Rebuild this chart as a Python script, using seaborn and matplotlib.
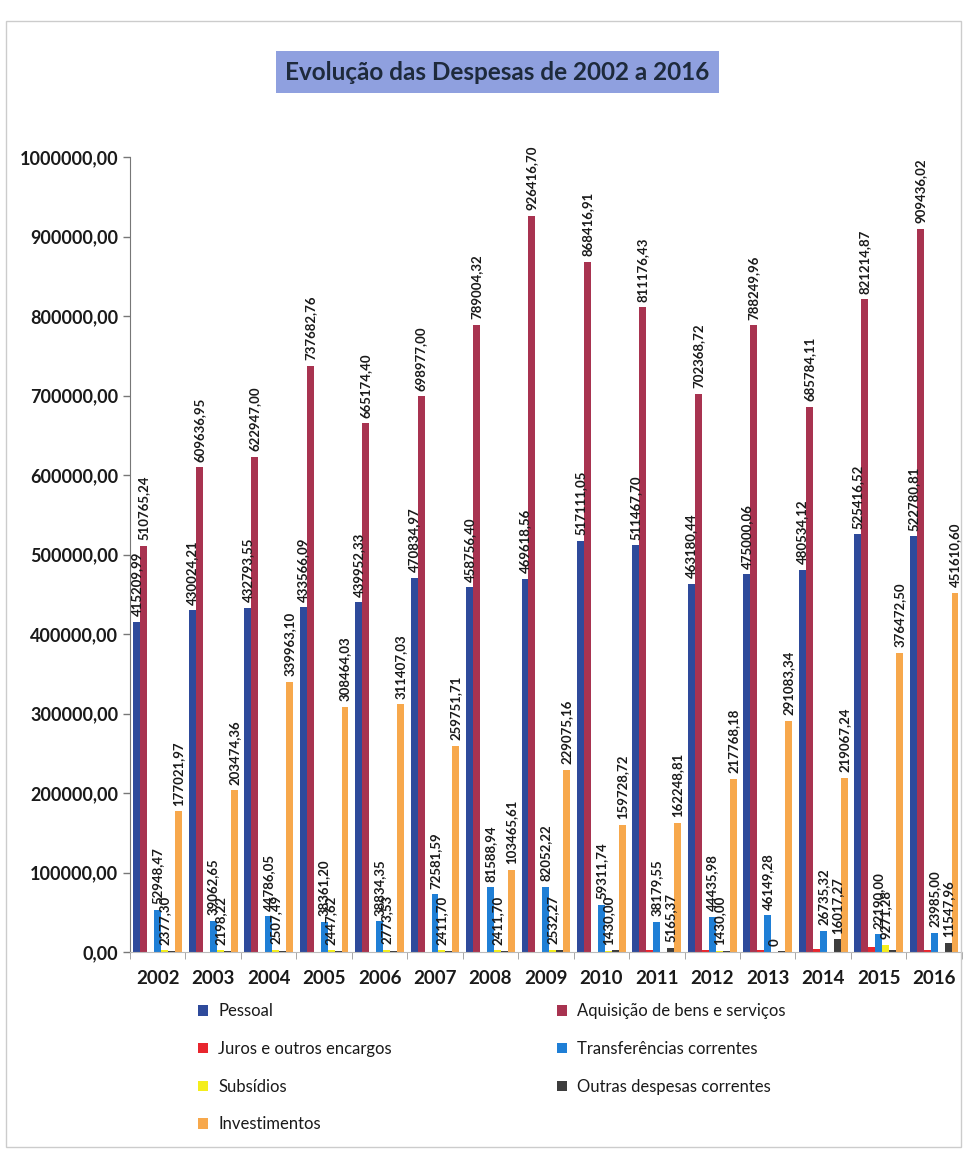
import pandas as pd
import numpy as np
import seaborn as sns
import matplotlib.pyplot as plt
from matplotlib.patches import Rectangle

anos = [str(a) for a in range(2002, 2017)]

pessoal = [415209.99, 430024.21, 432793.55, 433566.09, 439952.33, 470834.97, 458756.40,
           469618.56, 517111.05, 511467.70, 463180.44, 475000.06, 480534.12, 525416.52, 522780.81]
aquisicao = [510765.24, 609636.95, 622947.00, 737682.76, 665174.40, 698977.00, 789004.32,
             926416.70, 868416.91, 811176.43, 702368.72, 788249.96, 685784.11, 821214.87, 909436.02]
juros = [300, 300, 300, 300, 300, 300, 300, 300, 300, 2000, 3000, 3000, 3500, 6000, 3000]
transferencias = [52948.47, 39062.65, 44786.05, 38361.20, 38834.35, 72581.59, 81588.94,
                  82052.22, 59311.74, 38179.55, 44435.98, 46149.28, 26735.32, 22190.00, 23985.00]
subsidios = [2377.30, 2198.22, 2507.49, 2447.62, 2773.53, 2411.70, 2411.70,
             2532.27, 1430.00, 0, 1430.00, 0, 0, 9271.28, 0]
outras = [1200, 1000, 1500, 1000, 1200, 1500, 1500, 2500, 2000,
          5165.37, 1000, 1000, 16017.27, 2500, 11547.96]
investimentos = [177021.97, 203474.36, 339963.10, 308464.03, 311407.03, 259751.71, 103465.61,
                 229075.16, 159728.72, 162248.81, 217768.18, 291083.34, 219067.24, 376472.50, 451610.60]

series = ['Pessoal', 'Aquisição de bens e serviços', 'Juros e outros encargos',
          'Transferências correntes', 'Subsídios', 'Outras despesas correntes', 'Investimentos']
cores = ['#2e4a9b', '#a83350', '#e8262e', '#1f7fd6', '#f4ee1c', '#3d3d3d', '#f7a84c']

# anos em que as series pequenas tem rotulo
rot_subsidios = ['2002', '2003', '2004', '2005', '2006', '2007', '2008', '2009', '2010',
                 '2012', '2013', '2015']
rot_outras = ['2011', '2014', '2016']

valores = [pessoal, aquisicao, juros, transferencias, subsidios, outras, investimentos]
df = pd.DataFrame({
    'Ano': anos * len(series),
    'Rubrica': np.repeat(series, len(anos)),
    'Valor': np.concatenate(valores),
})

plt.rcParams['font.family'] = ['Lato', 'DejaVu Sans']

fig = plt.figure(figsize=(9.65, 11.52), dpi=100)
ax = fig.add_axes([0.1347, 0.1736, 0.862, 0.6901])

sns.barplot(data=df, x='Ano', y='Valor', hue='Rubrica', hue_order=series,
            palette=cores, width=0.88, errorbar=None, saturation=1, ax=ax, legend=True)


def fmt(v):
    if v == 0:
        return '0'
    return f'{v:.2f}'.replace('.', ',')


for i, cont in enumerate(ax.containers):
    nome = series[i]
    labs = []
    for ano, v in zip(anos, valores[i]):
        if nome == 'Juros e outros encargos':
            labs.append('')
        elif nome == 'Subsídios':
            labs.append(fmt(v) if ano in rot_subsidios else '')
        elif nome == 'Outras despesas correntes':
            labs.append(fmt(v) if ano in rot_outras else '')
        else:
            labs.append(fmt(v))
    ax.bar_label(cont, labels=labs, rotation=90, padding=4, fontsize=9.5,
                 fontweight='bold', color='#1a1a1a')

ax.set_ylim(0, 1000000)
ax.set_xlim(-0.5, len(anos) - 0.5)
ax.set_yticks(np.arange(0, 1000001, 100000))
ax.set_yticklabels([f'{int(t)},00' for t in np.arange(0, 1000001, 100000)],
                   fontsize=13, fontweight='bold', color='#1a1a1a')
ax.set_xticks(range(len(anos)))
ax.set_xticklabels(anos, fontsize=13.5, fontweight='bold', color='#1a1a1a')
ax.tick_params(axis='x', length=0, pad=13)
ax.tick_params(axis='y', length=5, color='#777777', width=1)
ax.set_xticks(np.arange(-0.5, len(anos), 1), minor=True)
ax.tick_params(axis='x', which='minor', length=5, color='#999999')
ax.set_xlabel('')
ax.set_ylabel('')
for s in ['top', 'right']:
    ax.spines[s].set_visible(False)
ax.spines['left'].set_color('#777777')
ax.spines['bottom'].set_color('#bbbbbb')

h, l = ax.get_legend_handles_labels()
ax.get_legend().remove()
ordem = [0, 2, 4, 6, 1, 3, 5]
fig.legend([h[k] for k in ordem], [l[k] for k in ordem], loc='upper left',
           bbox_to_anchor=(0.19, 0.142), ncol=2, frameon=False, fontsize=12,
           handlelength=0.6, handleheight=0.6, handletextpad=0.6,
           labelspacing=1.3, columnspacing=9.9, labelcolor='#1a1a1a')

fig.text(0.5155, 0.9375, 'Evolução das Despesas de 2002 a 2016', ha='center', va='center',
         fontsize=17.5, fontweight='bold', color='#1e2a3c',
         bbox=dict(boxstyle='square,pad=0.4', facecolor='#8fa0df', edgecolor='none'))

fig.patches.append(Rectangle((0.006, 0.004), 0.99, 0.978, transform=fig.transFigure,
                             fill=False, edgecolor='#cccccc', linewidth=1))

fig.savefig('out.png', dpi=100)
